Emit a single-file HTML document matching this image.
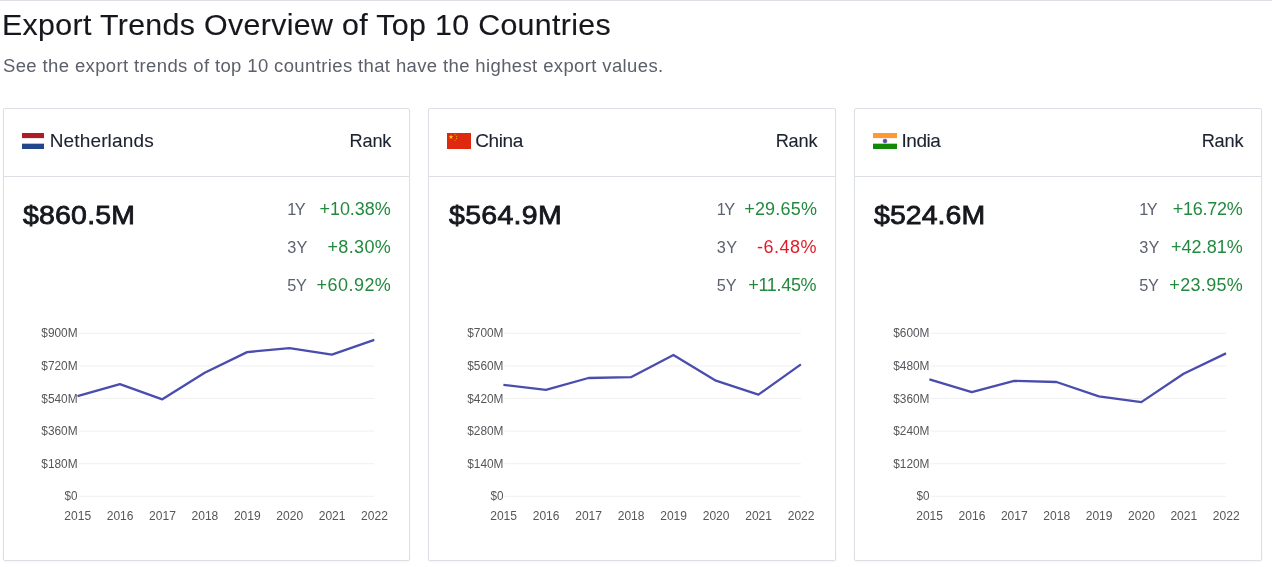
<!DOCTYPE html>
<html lang="en"><head><meta charset="utf-8"><title>Export Trends Overview of Top 10 Countries</title>
<style>
html,body{margin:0;padding:0;background:#fff;}
body{width:1272px;height:567px;position:relative;overflow:hidden;font-family:"Liberation Sans",sans-serif;color:#1d273b;}
.topline{position:absolute;left:0;top:0;width:1272px;height:1px;background:#dce0e5;}
.t{position:absolute;margin:0;padding:0;white-space:nowrap;font-family:"Liberation Sans",sans-serif;}
.card{position:absolute;top:108px;width:407.67px;height:453px;box-sizing:border-box;border:1px solid #dce0e5;border-radius:2px;background:#fff;box-shadow:0 1px 2px rgba(30,40,60,.05);}
.hdr{position:absolute;left:0;top:0;right:0;height:68px;border-bottom:1px solid #dce0e5;box-sizing:border-box;}
.flag{position:absolute;top:24px;height:16px;display:block;}
svg.chart{position:absolute;left:0;top:0;overflow:visible;}
svg.chart text{font-family:"Liberation Sans",sans-serif;font-size:12.1px;fill:#55565a;}
</style></head><body>
<div class="topline"></div>

<h1 class="t" style="left:2.16px;top:9.60px;font-size:29.79px;line-height:29.79px;transform:scaleX(1.02);transform-origin:0 0;letter-spacing:0.318px;font-weight:400;-webkit-text-stroke:0.12px #15171c;color:#15171c">Export Trends Overview of Top 10 Countries</h1>
<p class="t" style="left:2.95px;top:57.50px;font-size:17.62px;line-height:17.62px;transform:scaleX(1.05);transform-origin:0 0;letter-spacing:0.359px;font-weight:400;color:#5d606a">See the export trends of top 10 countries that have the highest export values.</p>
<div class="card" style="left:3px;width:407px">
<div class="hdr"><svg class="flag" style="left:18.00px;width:22.3px" viewBox="0 0 64 48" preserveAspectRatio="none"><rect width="64" height="16" fill="#ae1c28"/><rect y="16" width="64" height="16" fill="#fff"/><rect y="32" width="64" height="16" fill="#21468b"/></svg></div>
<svg class="chart" width="405" height="451" viewBox="0 0 405 451"><line x1="74.5" x2="370.3" y1="224.3" y2="224.3" stroke="#f0f0f0" stroke-width="1"/><line x1="74.5" x2="370.3" y1="256.9" y2="256.9" stroke="#f0f0f0" stroke-width="1"/><line x1="74.5" x2="370.3" y1="289.5" y2="289.5" stroke="#f0f0f0" stroke-width="1"/><line x1="74.5" x2="370.3" y1="322.1" y2="322.1" stroke="#f0f0f0" stroke-width="1"/><line x1="74.5" x2="370.3" y1="354.7" y2="354.7" stroke="#f0f0f0" stroke-width="1"/><line x1="74.5" x2="370.3" y1="387.3" y2="387.3" stroke="#f0f0f0" stroke-width="1"/><text x="73.6" y="228.3" text-anchor="end" textLength="36.3" lengthAdjust="spacingAndGlyphs">$900M</text><text x="73.6" y="260.9" text-anchor="end" textLength="36.3" lengthAdjust="spacingAndGlyphs">$720M</text><text x="73.6" y="293.5" text-anchor="end" textLength="36.3" lengthAdjust="spacingAndGlyphs">$540M</text><text x="73.6" y="326.1" text-anchor="end" textLength="36.3" lengthAdjust="spacingAndGlyphs">$360M</text><text x="73.6" y="358.7" text-anchor="end" textLength="36.3" lengthAdjust="spacingAndGlyphs">$180M</text><text x="73.6" y="391.3" text-anchor="end" textLength="13.0" lengthAdjust="spacingAndGlyphs">$0</text><text x="73.7" y="410.6" text-anchor="middle" textLength="26.8" lengthAdjust="spacingAndGlyphs">2015</text><text x="116.1" y="410.6" text-anchor="middle" textLength="26.8" lengthAdjust="spacingAndGlyphs">2016</text><text x="158.5" y="410.6" text-anchor="middle" textLength="26.8" lengthAdjust="spacingAndGlyphs">2017</text><text x="200.9" y="410.6" text-anchor="middle" textLength="26.8" lengthAdjust="spacingAndGlyphs">2018</text><text x="243.3" y="410.6" text-anchor="middle" textLength="26.8" lengthAdjust="spacingAndGlyphs">2019</text><text x="285.7" y="410.6" text-anchor="middle" textLength="26.8" lengthAdjust="spacingAndGlyphs">2020</text><text x="328.1" y="410.6" text-anchor="middle" textLength="26.8" lengthAdjust="spacingAndGlyphs">2021</text><text x="370.5" y="410.6" text-anchor="middle" textLength="26.8" lengthAdjust="spacingAndGlyphs">2022</text><polyline points="73.5,287.1 115.9,275.1 158.3,290.3 200.7,263.8 243.1,243.1 285.5,239.1 327.9,245.7 370.3,230.8" fill="none" stroke="#4a4dad" stroke-width="2.3" stroke-linejoin="round"/></svg>
</div>
<span class="t" style="left:49.70px;top:131.00px;font-size:19.0px;line-height:19.0px;letter-spacing:0.15px;font-weight:400;-webkit-text-stroke:0.1px #1d2230;color:#1d2230">Netherlands</span>
<span class="t" style="left:349.60px;top:132.00px;font-size:18.2px;line-height:18.2px;letter-spacing:-0.2px;font-weight:400;-webkit-text-stroke:0.1px #1d2230;color:#1d2230">Rank</span>
<span class="t" style="left:22.90px;top:203.20px;font-size:25.9px;line-height:25.9px;transform:scaleX(1.1);transform-origin:0 0;letter-spacing:0.182px;font-weight:400;-webkit-text-stroke:0.8px #15171c;color:#15171c">$860.5M</span>
<span class="t" style="left:287.20px;top:201.00px;font-size:16.3px;line-height:16.3px;letter-spacing:-1.6px;font-weight:400;color:#5d6270">1Y</span>
<span class="t" style="left:319.40px;top:200.00px;font-size:18.0px;line-height:18.0px;letter-spacing:-0.017px;font-weight:400;color:#23893f">+10.38%</span>
<span class="t" style="left:287.20px;top:238.80px;font-size:16.3px;line-height:16.3px;letter-spacing:0.3px;font-weight:400;color:#5d6270">3Y</span>
<span class="t" style="left:327.40px;top:237.80px;font-size:18.0px;line-height:18.0px;letter-spacing:0.38px;font-weight:400;color:#23893f">+8.30%</span>
<span class="t" style="left:287.20px;top:276.50px;font-size:16.3px;line-height:16.3px;letter-spacing:-0.2px;font-weight:400;color:#5d6270">5Y</span>
<span class="t" style="left:316.50px;top:275.50px;font-size:18.0px;line-height:18.0px;letter-spacing:0.467px;font-weight:400;color:#23893f">+60.92%</span>
<div class="card" style="left:428px;width:408px">
<div class="hdr"><svg class="flag" style="left:18.00px;width:24px" viewBox="0 0 24 16" preserveAspectRatio="none"><rect width="24" height="16" fill="#de2910"/><polygon fill="#ffde00" points="4.00,1.60 4.54,3.26 6.28,3.26 4.87,4.28 5.41,5.94 4.00,4.92 2.59,5.94 3.13,4.28 1.72,3.26 3.46,3.26"/><polygon fill="#ffde00" points="8.31,0.86 8.26,1.44 8.80,1.67 8.23,1.80 8.18,2.38 7.88,1.88 7.31,2.01 7.70,1.57 7.40,1.08 7.93,1.30"/><polygon fill="#ffde00" points="10.18,2.64 9.90,3.16 10.31,3.58 9.73,3.47 9.46,3.99 9.38,3.41 8.81,3.31 9.33,3.06 9.25,2.48 9.65,2.90"/><polygon fill="#ffde00" points="9.60,4.80 9.78,5.35 10.36,5.35 9.89,5.69 10.07,6.25 9.60,5.91 9.13,6.25 9.31,5.69 8.84,5.35 9.42,5.35"/><polygon fill="#ffde00" points="8.31,6.46 8.26,7.04 8.80,7.27 8.23,7.40 8.18,7.98 7.88,7.48 7.31,7.61 7.70,7.17 7.40,6.68 7.93,6.90"/></svg></div>
<svg class="chart" width="405" height="451" viewBox="0 0 405 451"><line x1="75.4" x2="371.9" y1="224.3" y2="224.3" stroke="#f0f0f0" stroke-width="1"/><line x1="75.4" x2="371.9" y1="256.9" y2="256.9" stroke="#f0f0f0" stroke-width="1"/><line x1="75.4" x2="371.9" y1="289.5" y2="289.5" stroke="#f0f0f0" stroke-width="1"/><line x1="75.4" x2="371.9" y1="322.1" y2="322.1" stroke="#f0f0f0" stroke-width="1"/><line x1="75.4" x2="371.9" y1="354.7" y2="354.7" stroke="#f0f0f0" stroke-width="1"/><line x1="75.4" x2="371.9" y1="387.3" y2="387.3" stroke="#f0f0f0" stroke-width="1"/><text x="74.5" y="228.3" text-anchor="end" textLength="36.3" lengthAdjust="spacingAndGlyphs">$700M</text><text x="74.5" y="260.9" text-anchor="end" textLength="36.3" lengthAdjust="spacingAndGlyphs">$560M</text><text x="74.5" y="293.5" text-anchor="end" textLength="36.3" lengthAdjust="spacingAndGlyphs">$420M</text><text x="74.5" y="326.1" text-anchor="end" textLength="36.3" lengthAdjust="spacingAndGlyphs">$280M</text><text x="74.5" y="358.7" text-anchor="end" textLength="36.3" lengthAdjust="spacingAndGlyphs">$140M</text><text x="74.5" y="391.3" text-anchor="end" textLength="13.0" lengthAdjust="spacingAndGlyphs">$0</text><text x="74.6" y="410.6" text-anchor="middle" textLength="26.8" lengthAdjust="spacingAndGlyphs">2015</text><text x="117.1" y="410.6" text-anchor="middle" textLength="26.8" lengthAdjust="spacingAndGlyphs">2016</text><text x="159.6" y="410.6" text-anchor="middle" textLength="26.8" lengthAdjust="spacingAndGlyphs">2017</text><text x="202.1" y="410.6" text-anchor="middle" textLength="26.8" lengthAdjust="spacingAndGlyphs">2018</text><text x="244.6" y="410.6" text-anchor="middle" textLength="26.8" lengthAdjust="spacingAndGlyphs">2019</text><text x="287.1" y="410.6" text-anchor="middle" textLength="26.8" lengthAdjust="spacingAndGlyphs">2020</text><text x="329.6" y="410.6" text-anchor="middle" textLength="26.8" lengthAdjust="spacingAndGlyphs">2021</text><text x="372.1" y="410.6" text-anchor="middle" textLength="26.8" lengthAdjust="spacingAndGlyphs">2022</text><polyline points="74.4,275.8 116.9,280.9 159.4,269.0 201.9,268.2 244.4,246.0 286.9,271.7 329.4,285.6 371.9,255.4" fill="none" stroke="#4a4dad" stroke-width="2.3" stroke-linejoin="round"/></svg>
</div>
<span class="t" style="left:475.30px;top:131.00px;font-size:19.0px;line-height:19.0px;letter-spacing:-0.425px;font-weight:400;-webkit-text-stroke:0.1px #1d2230;color:#1d2230">China</span>
<span class="t" style="left:775.70px;top:132.00px;font-size:18.2px;line-height:18.2px;letter-spacing:-0.2px;font-weight:400;-webkit-text-stroke:0.1px #1d2230;color:#1d2230">Rank</span>
<span class="t" style="left:448.50px;top:203.20px;font-size:25.9px;line-height:25.9px;transform:scaleX(1.1);transform-origin:0 0;letter-spacing:0.273px;font-weight:400;-webkit-text-stroke:0.8px #15171c;color:#15171c">$564.9M</span>
<span class="t" style="left:716.80px;top:201.00px;font-size:16.3px;line-height:16.3px;letter-spacing:-1.6px;font-weight:400;color:#5d6270">1Y</span>
<span class="t" style="left:744.20px;top:200.00px;font-size:18.0px;line-height:18.0px;letter-spacing:0.2px;font-weight:400;color:#23893f">+29.65%</span>
<span class="t" style="left:716.80px;top:238.80px;font-size:16.3px;line-height:16.3px;letter-spacing:0.3px;font-weight:400;color:#5d6270">3Y</span>
<span class="t" style="left:757.00px;top:237.80px;font-size:18.0px;line-height:18.0px;letter-spacing:0.48px;font-weight:400;color:#e01b28">-6.48%</span>
<span class="t" style="left:716.80px;top:276.50px;font-size:16.3px;line-height:16.3px;letter-spacing:-0.2px;font-weight:400;color:#5d6270">5Y</span>
<span class="t" style="left:748.30px;top:275.50px;font-size:18.0px;line-height:18.0px;letter-spacing:-0.317px;font-weight:400;color:#23893f">+11.45%</span>
<div class="card" style="left:854px;width:408px">
<div class="hdr"><svg class="flag" style="left:18.00px;width:24px" viewBox="0 0 24 16" preserveAspectRatio="none"><rect width="24" height="5.33" fill="#f93"/><rect y="5.33" width="24" height="5.34" fill="#fff"/><rect y="10.67" width="24" height="5.33" fill="#128807"/><circle cx="12" cy="8" r="1.85" fill="none" stroke="#008" stroke-width="0.55"/><line x1="12" y1="8" x2="14.00" y2="8.00" stroke="#008" stroke-width="0.3"/><line x1="12" y1="8" x2="13.73" y2="9.00" stroke="#008" stroke-width="0.3"/><line x1="12" y1="8" x2="13.00" y2="9.73" stroke="#008" stroke-width="0.3"/><line x1="12" y1="8" x2="12.00" y2="10.00" stroke="#008" stroke-width="0.3"/><line x1="12" y1="8" x2="11.00" y2="9.73" stroke="#008" stroke-width="0.3"/><line x1="12" y1="8" x2="10.27" y2="9.00" stroke="#008" stroke-width="0.3"/><line x1="12" y1="8" x2="10.00" y2="8.00" stroke="#008" stroke-width="0.3"/><line x1="12" y1="8" x2="10.27" y2="7.00" stroke="#008" stroke-width="0.3"/><line x1="12" y1="8" x2="11.00" y2="6.27" stroke="#008" stroke-width="0.3"/><line x1="12" y1="8" x2="12.00" y2="6.00" stroke="#008" stroke-width="0.3"/><line x1="12" y1="8" x2="13.00" y2="6.27" stroke="#008" stroke-width="0.3"/><line x1="12" y1="8" x2="13.73" y2="7.00" stroke="#008" stroke-width="0.3"/><circle cx="12" cy="8" r="0.5" fill="#008"/></svg></div>
<svg class="chart" width="405" height="451" viewBox="0 0 405 451"><line x1="75.4" x2="371.0" y1="224.3" y2="224.3" stroke="#f0f0f0" stroke-width="1"/><line x1="75.4" x2="371.0" y1="256.9" y2="256.9" stroke="#f0f0f0" stroke-width="1"/><line x1="75.4" x2="371.0" y1="289.5" y2="289.5" stroke="#f0f0f0" stroke-width="1"/><line x1="75.4" x2="371.0" y1="322.1" y2="322.1" stroke="#f0f0f0" stroke-width="1"/><line x1="75.4" x2="371.0" y1="354.7" y2="354.7" stroke="#f0f0f0" stroke-width="1"/><line x1="75.4" x2="371.0" y1="387.3" y2="387.3" stroke="#f0f0f0" stroke-width="1"/><text x="74.5" y="228.3" text-anchor="end" textLength="36.3" lengthAdjust="spacingAndGlyphs">$600M</text><text x="74.5" y="260.9" text-anchor="end" textLength="36.3" lengthAdjust="spacingAndGlyphs">$480M</text><text x="74.5" y="293.5" text-anchor="end" textLength="36.3" lengthAdjust="spacingAndGlyphs">$360M</text><text x="74.5" y="326.1" text-anchor="end" textLength="36.3" lengthAdjust="spacingAndGlyphs">$240M</text><text x="74.5" y="358.7" text-anchor="end" textLength="36.3" lengthAdjust="spacingAndGlyphs">$120M</text><text x="74.5" y="391.3" text-anchor="end" textLength="13.0" lengthAdjust="spacingAndGlyphs">$0</text><text x="74.6" y="410.6" text-anchor="middle" textLength="26.8" lengthAdjust="spacingAndGlyphs">2015</text><text x="117.0" y="410.6" text-anchor="middle" textLength="26.8" lengthAdjust="spacingAndGlyphs">2016</text><text x="159.3" y="410.6" text-anchor="middle" textLength="26.8" lengthAdjust="spacingAndGlyphs">2017</text><text x="201.7" y="410.6" text-anchor="middle" textLength="26.8" lengthAdjust="spacingAndGlyphs">2018</text><text x="244.1" y="410.6" text-anchor="middle" textLength="26.8" lengthAdjust="spacingAndGlyphs">2019</text><text x="286.5" y="410.6" text-anchor="middle" textLength="26.8" lengthAdjust="spacingAndGlyphs">2020</text><text x="328.8" y="410.6" text-anchor="middle" textLength="26.8" lengthAdjust="spacingAndGlyphs">2021</text><text x="371.2" y="410.6" text-anchor="middle" textLength="26.8" lengthAdjust="spacingAndGlyphs">2022</text><polyline points="74.4,270.3 116.8,283.2 159.1,271.9 201.5,273.0 243.9,287.4 286.3,293.1 328.6,264.7 371.0,244.4" fill="none" stroke="#4a4dad" stroke-width="2.3" stroke-linejoin="round"/></svg>
</div>
<span class="t" style="left:901.60px;top:131.00px;font-size:19.0px;line-height:19.0px;letter-spacing:-0.5px;font-weight:400;-webkit-text-stroke:0.1px #1d2230;color:#1d2230">India</span>
<span class="t" style="left:1201.70px;top:132.00px;font-size:18.2px;line-height:18.2px;letter-spacing:-0.2px;font-weight:400;-webkit-text-stroke:0.1px #1d2230;color:#1d2230">Rank</span>
<span class="t" style="left:874.40px;top:203.20px;font-size:25.9px;line-height:25.9px;transform:scaleX(1.1);transform-origin:0 0;letter-spacing:0.045px;font-weight:400;-webkit-text-stroke:0.8px #15171c;color:#15171c">$524.6M</span>
<span class="t" style="left:1139.20px;top:201.00px;font-size:16.3px;line-height:16.3px;letter-spacing:-1.6px;font-weight:400;color:#5d6270">1Y</span>
<span class="t" style="left:1172.80px;top:200.00px;font-size:18.0px;line-height:18.0px;letter-spacing:-0.25px;font-weight:400;color:#23893f">+16.72%</span>
<span class="t" style="left:1139.20px;top:238.80px;font-size:16.3px;line-height:16.3px;letter-spacing:0.3px;font-weight:400;color:#5d6270">3Y</span>
<span class="t" style="left:1171.00px;top:237.80px;font-size:18.0px;line-height:18.0px;letter-spacing:0.05px;font-weight:400;color:#23893f">+42.81%</span>
<span class="t" style="left:1139.20px;top:276.50px;font-size:16.3px;line-height:16.3px;letter-spacing:-0.2px;font-weight:400;color:#5d6270">5Y</span>
<span class="t" style="left:1169.30px;top:275.50px;font-size:18.0px;line-height:18.0px;letter-spacing:0.333px;font-weight:400;color:#23893f">+23.95%</span>
</body></html>
